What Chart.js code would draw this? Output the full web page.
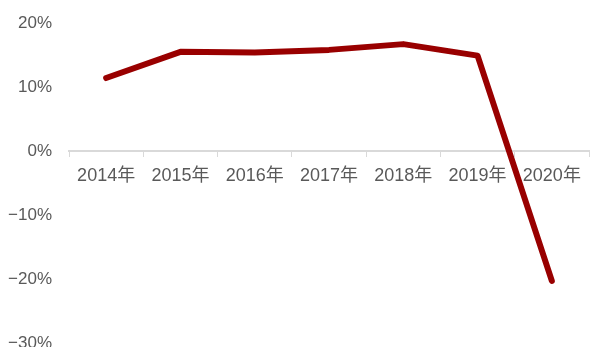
<!DOCTYPE html>
<html lang="zh">
<head>
    <meta charset="UTF-8">
    <title>增速</title>
    <script src="https://cdn.jsdelivr.net/npm/chart.js"></script>
    <style>
        html, body { margin: 0; padding: 0; background: #fff; }
        canvas { display: block; }
    </style>
</head>
<body>

<canvas id="growthChart" width="590" height="347"></canvas>

<script>
// yearly growth, %
const years = ['2014年', '2015年', '2016年', '2017年', '2018年', '2019年', '2020年'];
const growth = [11.4, 15.5, 15.4, 15.8, 16.7, 14.9, -20.3];

// y axis range and step, %
const yMin = -30;
const yMax = 20;
const yStep = 10;

const fontFamily = "'Liberation Sans', Arial, 'Noto Sans CJK SC', sans-serif";
const labelColor = '#595959';
const axisColor = '#d9d9d9';

const ctx = document.getElementById('growthChart').getContext('2d');
new Chart(ctx, {
    type: 'line',
    data: {
        labels: years,
        datasets: [{
            data: growth,
            borderColor: '#990000',
            borderWidth: 6,
            borderCapStyle: 'round',
            borderJoinStyle: 'round',
            pointRadius: 0,
            tension: 0,
            fill: false
        }]
    },
    options: {
        responsive: false,
        animation: false,
        layout: { padding: { top: 23, right: 1, bottom: 4, left: 0 } },
        plugins: {
            legend: { display: false },
            tooltip: { enabled: false }
        },
        scales: {
            x: {
                position: { y: 0 },
                offset: true,
                grid: {
                    offset: true,
                    drawOnChartArea: false,
                    drawTicks: true,
                    tickLength: 5,
                    color: axisColor
                },
                border: { color: axisColor, width: 2 },
                ticks: {
                    color: labelColor,
                    font: { family: fontFamily, size: 18 },
                    padding: 9,
                    maxRotation: 0,
                    autoSkip: false
                },
                // axis sits on the zero line, so it takes no room at the bottom
                afterFit: s => { s.height = 0; }
            },
            y: {
                min: yMin,
                max: yMax,
                grid: { display: false, drawTicks: false },
                border: { display: false },
                ticks: {
                    stepSize: yStep,
                    color: labelColor,
                    font: { family: fontFamily, size: 17 },
                    padding: 17,
                    callback: v => (v < 0 ? '\u2212' + Math.abs(v) : v) + '%'
                },
                // fixed axis width; top and bottom labels may overhang the canvas edge
                afterFit: s => {
                    s.width = 69;
                    s.paddingTop = 0;
                    s.paddingBottom = 0;
                }
            }
        }
    }
});
</script>

</body>
</html>
